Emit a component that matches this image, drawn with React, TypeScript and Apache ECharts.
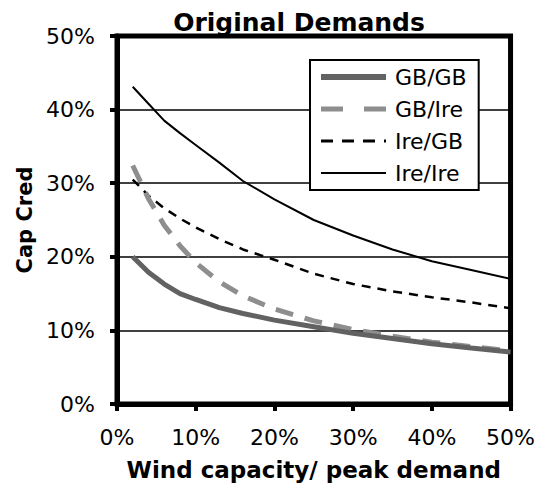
import React, { useEffect, useRef } from "react";
import * as echarts from "echarts";

const xValues = [2, 4, 6, 8, 10, 13, 16, 20, 25, 30, 35, 40, 45, 50];
const gbGb = [20.0, 17.9, 16.3, 15.0, 14.2, 13.1, 12.3, 11.4, 10.5, 9.6, 8.9, 8.2, 7.6, 7.05];
const gbIre = [32.4, 27.9, 24.3, 21.5, 19.2, 16.6, 14.7, 12.9, 11.3, 10.1, 9.2, 8.4, 7.8, 7.2];
const ireGb = [30.5, 28.3, 26.6, 25.2, 24.0, 22.4, 21.0, 19.6, 17.7, 16.3, 15.3, 14.5, 13.8, 13.0];
const ireIre = [43.1, 40.8, 38.5, 36.8, 35.2, 32.8, 30.3, 27.8, 25.0, 22.9, 21.0, 19.4, 18.2, 17.0];
const seriesNames = ["GB/GB", "GB/Ire", "Ire/GB", "Ire/Ire"];
const titleText = "Original Demands";
const xAxisTitle = "Wind capacity/ peak demand";
const yAxisTitle = "Cap Cred";

const FONT = "DejaVu Sans";

function pairs(ys: number[]) {
  return xValues.map((x, i) => [x, ys[i]]);
}

export default function App() {
  const ref = useRef<HTMLDivElement>(null);
  useEffect(() => {
    if (!ref.current) return;
    const chart = echarts.init(ref.current, undefined, { renderer: "svg" });
    const styles = [
      { color: "#626262", width: 5, type: "solid" as any },
      { color: "#8e8e8e", width: 5, type: [18, 12] as any },
      { color: "#000000", width: 2.5, type: [9, 7] as any },
      { color: "#000000", width: 2, type: "solid" as any },
    ];
    const legendStyles = [
      { color: "#626262", width: 6, type: "solid" as any },
      { color: "#8e8e8e", width: 5, type: [22, 21] as any },
      { color: "#000000", width: 3, type: [12, 9] as any },
      { color: "#000000", width: 2, type: "solid" as any },
    ];
    const data = [gbGb, gbIre, ireGb, ireIre];
    chart.setOption({
      animation: false,
      backgroundColor: "#ffffff",
      title: {
        text: titleText,
        left: 294,
        top: 5,
        textAlign: "center",
        textStyle: { fontFamily: FONT, fontSize: 25, fontWeight: "bold", color: "#000" },
      },
      grid: {
        left: 117,
        top: 36,
        width: 394,
        height: 368,
        show: true,
        borderColor: "#000",
        borderWidth: 5,
        backgroundColor: "transparent",
      },
      legend: {
        orient: "vertical",
        left: 310,
        top: 60,
        itemWidth: 65,
        itemHeight: 14,
        itemGap: 10,
        padding: [6, 12, 6, 8],
        backgroundColor: "#fff",
        borderColor: "#000",
        borderWidth: 2,
        borderRadius: 0,
        data: seriesNames.map((name, i) => ({
          name,
          itemStyle: { opacity: 0 },
          lineStyle: {
            color: legendStyles[i].color,
            width: legendStyles[i].width,
            type: legendStyles[i].type,
          },
        })),
        textStyle: { fontFamily: FONT, fontSize: 22, color: "#000", padding: [0, 0, 0, 4] },
      },
      xAxis: {
        type: "value",
        min: 0,
        max: 50,
        interval: 10,
        name: xAxisTitle,
        nameLocation: "middle",
        nameGap: 54,
        nameTextStyle: { fontFamily: FONT, fontSize: 23, fontWeight: "bold", color: "#000" },
        axisLine: { show: true, lineStyle: { color: "#000", width: 5 } },
        axisTick: { show: true, inside: false, length: 7, lineStyle: { color: "#000", width: 4 } },
        axisLabel: {
          fontFamily: FONT,
          fontSize: 22,
          color: "#000",
          margin: 22,
          formatter: "{value}%",
        },
        splitLine: { show: false },
      },
      yAxis: {
        type: "value",
        min: 0,
        max: 50,
        interval: 10,
        name: yAxisTitle,
        nameLocation: "middle",
        nameGap: 82,
        nameRotate: 90,
        nameTextStyle: { fontFamily: FONT, fontSize: 21, fontWeight: "bold", color: "#000" },
        axisLine: { show: true, lineStyle: { color: "#000", width: 5 } },
        axisTick: { show: true, inside: false, length: 7, lineStyle: { color: "#000", width: 4 } },
        axisLabel: {
          fontFamily: FONT,
          fontSize: 22,
          color: "#000",
          margin: 22,
          formatter: "{value}%",
        },
        splitLine: { show: true, lineStyle: { color: "#000", width: 1.5 } },
      },
      series: seriesNames.map((name, i) => ({
        name,
        type: "line",
        data: pairs(data[i]),
        symbol: "none",
        showSymbol: false,
        smooth: false,
        color: styles[i].color,
        lineStyle: styles[i],
        z: 2 + (3 - i),
      })),
    });
    return () => chart.dispose();
  }, []);
  return (
    <div
      ref={ref}
      style={{ position: "absolute", left: 0, top: 0, width: 538, height: 487 }}
    />
  );
}
